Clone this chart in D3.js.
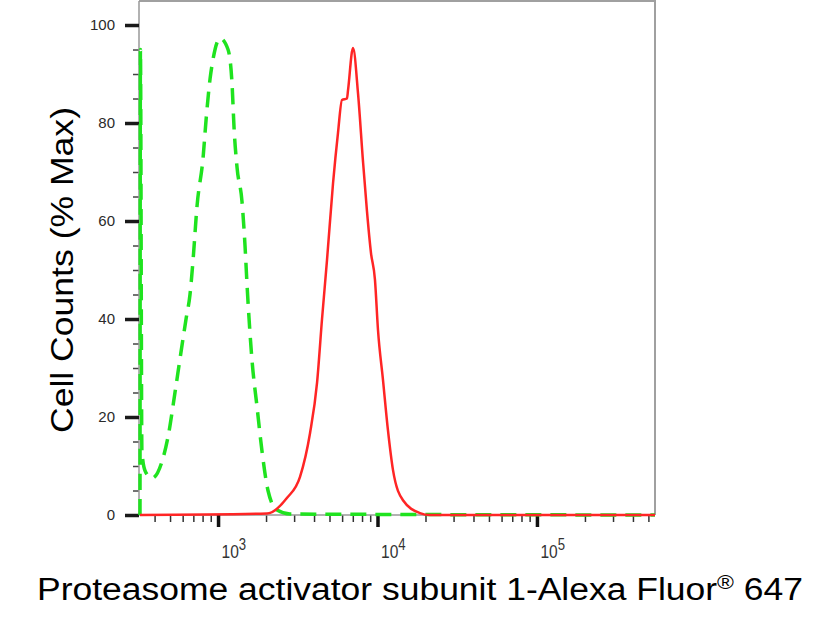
<!DOCTYPE html>
<html>
<head>
<meta charset="utf-8">
<script src="https://cdn.jsdelivr.net/npm/d3@7"></script>
<style>
  html, body { margin: 0; padding: 0; background: #fff; }
  svg { display: block; font-family: "Liberation Sans", Arial, sans-serif; }
</style>
</head>
<body>
<div id="chart"></div>
<script>
// fluorescence intensity (x) and % max counts (y)
const isotypeX = [324, 326, 333, 349, 385, 446, 486, 537, 578, 630, 667, 697, 738, 806, 841, 891, 930, 1029, 1155, 1224, 1260, 1315, 1413, 1476, 1520, 1633, 1757, 1887, 2057, 2343, 2826, 550000];
const isotypeY = [0, 95, 13, 9, 7.5, 11, 16, 25, 32, 40, 45, 52, 63, 73, 80.6, 89, 93, 97.3, 95, 88, 79, 71, 64, 55, 47, 31.6, 22, 13, 5, 1, 0.2, 0];

const sampleX = [324, 2027, 2710, 3266, 3774, 4178, 4489, 4823, 5262, 5653, 5988, 6436, 6535, 7023, 7551, 8118, 8590, 9100, 9642, 10070, 10824, 11630, 12503, 14450, 18460, 21330, 550000];
const sampleY = [0, 0.3, 3.5, 7.8, 16.7, 27, 40, 52, 67.7, 78, 84.7, 85, 86.7, 95.3, 86, 72, 62, 53.5, 48, 37.8, 27.6, 17.3, 9.2, 3, 0.4, 0, 0];

const yMajor = [0, 20, 40, 60, 80, 100];
const yMinor = [5, 10, 15, 25, 30, 35, 45, 50, 55, 65, 70, 75, 85, 90, 95];
const xMajor = [1e3, 1e4, 1e5];
const xMajorExp = ["3", "4", "5"];
const xMinor = [400, 500, 600, 700, 800, 900,
  2000, 3000, 4000, 5000, 6000, 7000, 8000, 9000,
  20000, 30000, 40000, 50000, 60000, 70000, 80000, 90000,
  200000, 300000, 400000, 500000];

const width = 835, height = 622;
const plotLeft = 140, plotRight = 655, plotTop = 1, plotBottom = 515;

const svg = d3.select("#chart")
  .append("svg")
  .attr("width", width)
  .attr("height", height);

const x = d3.scaleLog()
  .domain([324, 550000])
  .range([plotLeft, plotRight]);

const y = d3.scaleLinear()
  .domain([0, 104.9])
  .range([plotBottom, plotTop]);

svg.append("defs").append("clipPath")
  .attr("id", "plot")
  .append("rect")
  .attr("x", plotLeft - 2)
  .attr("y", plotTop)
  .attr("width", plotRight - plotLeft + 2)
  .attr("height", plotBottom - plotTop + 2);

// frame (top and right)
svg.append("path")
  .attr("d", "M" + (plotLeft - 1) + "," + plotTop + "H" + plotRight + "V" + plotBottom)
  .attr("fill", "none")
  .attr("stroke", "#a0a0a0")
  .attr("stroke-width", 2);

// minor y ticks
svg.append("g")
  .attr("transform", "translate(" + (plotLeft - 1) + ",0)")
  .call(d3.axisLeft(y).tickValues(yMinor).tickSize(6).tickFormat(""))
  .call((g) => g.select(".domain").remove())
  .call((g) => g.selectAll("line").attr("stroke", "#444").attr("stroke-width", 1.5));

// major y ticks
svg.append("g")
  .attr("transform", "translate(" + (plotLeft - 1) + ",0)")
  .call(d3.axisLeft(y).tickValues(yMajor).tickSize(14).tickPadding(10))
  .call((g) => g.select(".domain").attr("stroke", "#999").attr("stroke-width", 1.5)
    .attr("d", "M0," + plotBottom + "V" + plotTop))
  .call((g) => g.selectAll("line").attr("stroke", "#1a1a1a").attr("stroke-width", 3.5))
  .call((g) => g.selectAll("text")
    .attr("fill", "#2a2a2a")
    .style("font-size", "15px")
    .style("font-family", "'Liberation Sans', Arial, sans-serif"));

// minor x ticks
svg.append("g")
  .attr("transform", "translate(0," + plotBottom + ")")
  .call(d3.axisBottom(x).tickValues(xMinor).tickSize(7).tickFormat(""))
  .call((g) => g.select(".domain").remove())
  .call((g) => g.selectAll("line").attr("stroke", "#333").attr("stroke-width", 1.5));

// major x ticks
const xAxis = svg.append("g")
  .attr("transform", "translate(0," + plotBottom + ")")
  .call(d3.axisBottom(x).tickValues(xMajor).tickSize(12).tickFormat(""))
  .call((g) => g.select(".domain").attr("stroke", "#999").attr("stroke-width", 1.5)
    .attr("d", "M" + (plotLeft - 1) + ",0H" + plotRight))
  .call((g) => g.selectAll("line").attr("stroke", "#111").attr("stroke-width", 3.5));

xAxis.selectAll(".tick").each(function (d, i) {
  const t = d3.select(this).append("text")
    .attr("transform", "translate(3,43) scale(0.82,1)")
    .attr("fill", "#333")
    .attr("text-anchor", "start")
    .style("font-size", "19px")
    .style("font-family", "'Liberation Sans', Arial, sans-serif");
  t.append("tspan").text("10");
  t.append("tspan")
    .attr("dy", -8)
    .style("font-size", "16px")
    .text(xMajorExp[i]);
});

const line = d3.line()
  .x((d) => x(d[0]))
  .y((d) => y(d[1]))
  .curve(d3.curveMonotoneX);

const plot = svg.append("g").attr("clip-path", "url(#plot)");

plot.append("path")
  .datum(d3.zip(isotypeX, isotypeY))
  .attr("fill", "none")
  .attr("stroke", "#1fe31f")
  .attr("stroke-width", 3.5)
  .attr("stroke-dasharray", "16,9")
  .attr("d", line);

plot.append("path")
  .datum(d3.zip(sampleX, sampleY))
  .attr("fill", "none")
  .attr("stroke", "#ff2525")
  .attr("stroke-width", 2.5)
  .attr("stroke-linejoin", "round")
  .attr("d", line);

// axis titles
svg.append("text")
  .attr("transform", "translate(73,270) rotate(-90)")
  .attr("text-anchor", "middle")
  .attr("textLength", 326)
  .attr("lengthAdjust", "spacingAndGlyphs")
  .attr("fill", "#000")
  .style("font-size", "31px")
  .text("Cell Counts (% Max)");

const xt = svg.append("text")
  .attr("x", 37)
  .attr("y", 600)
  .attr("textLength", 766)
  .attr("lengthAdjust", "spacingAndGlyphs")
  .attr("fill", "#000")
  .style("font-size", "31px");
xt.append("tspan").text("Proteasome activator subunit 1-Alexa Fluor");
xt.append("tspan").attr("dy", -11).style("font-size", "20px").text("\u00AE");
xt.append("tspan").attr("dy", 11).text(" 647");
</script>
</body>
</html>
